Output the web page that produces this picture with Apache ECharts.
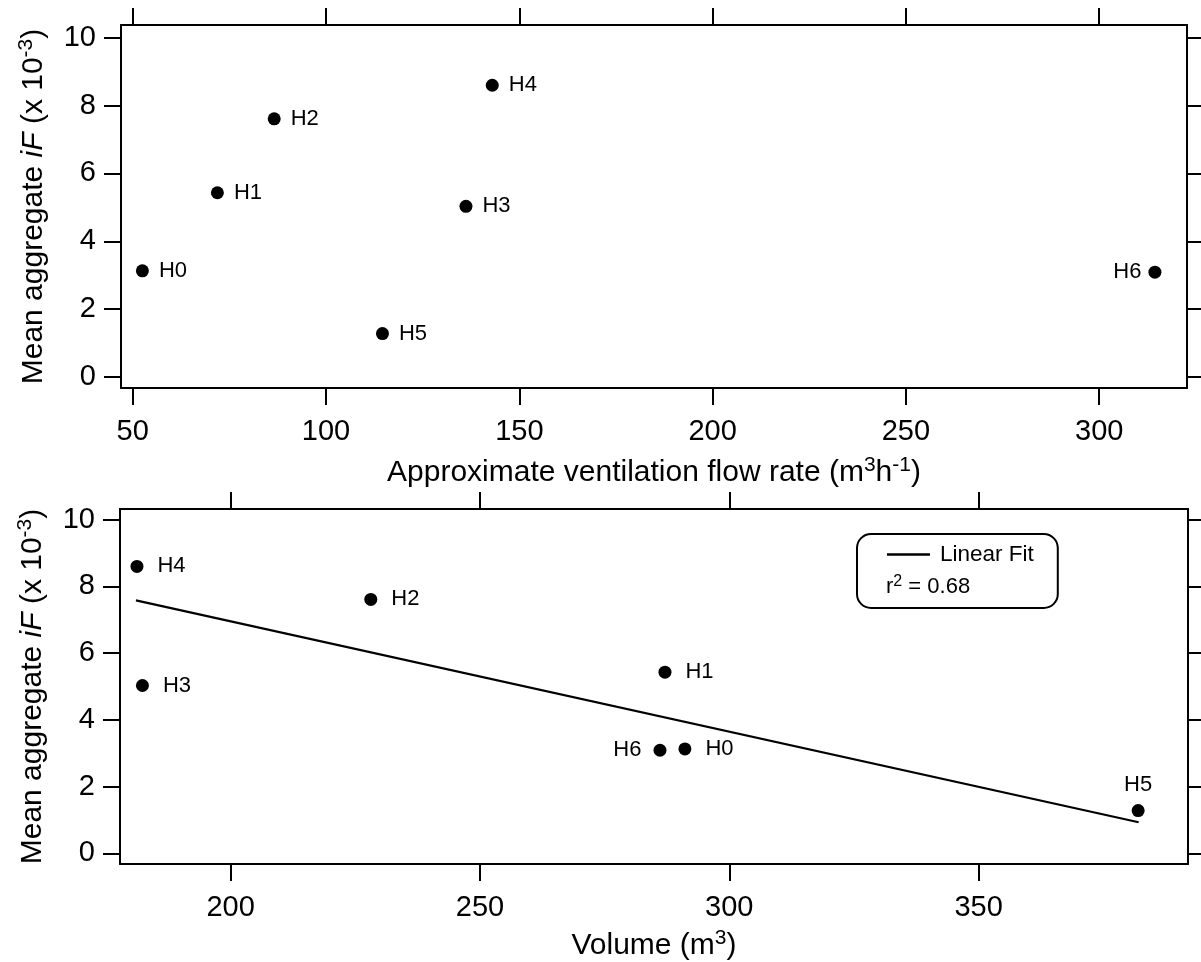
<!DOCTYPE html>
<html>
<head>
<meta charset="utf-8">
<script src="https://cdn.jsdelivr.net/npm/echarts@6/dist/echarts.min.js"></script>
<style>
html,body{margin:0;padding:0;background:#fff;}
#chart{width:1201px;height:962px;}
</style>
</head>
<body>
<div id="chart"></div>
<script>
// ---- data ----
const houses     = ['H0', 'H1', 'H2', 'H3', 'H4', 'H5', 'H6'];
const meanIF     = [3.13, 5.43, 7.61, 5.03, 8.60, 1.28, 3.09];      // x 10^-3
const flowRate   = [52.5, 71.9, 86.6, 136.2, 143.0, 114.6, 314.4]; // m3 h-1
const volume     = [291.1, 287.1, 228.1, 182.3, 181.2, 382.0, 286.1]; // m3
const fitVolume  = [181.0, 382.1];
const fitIF      = [7.58, 0.93];
const rSquared   = '0.68';
const flowTicks   = [50, 100, 150, 200, 250, 300];
const volumeTicks = [200, 250, 300, 350];
const iFTicks     = [0, 2, 4, 6, 8, 10];

// ---- style / layout ----
const FONT = "'Liberation Sans', Arial, Helvetica, sans-serif";
const BLACK = '#000';
const topRange = {xmin: 46.97, xmax: 322.7, ymin: -0.324, ymax: 10.375};
const botRange = {xmin: 177.8, xmax: 392.0, ymin: -0.32, ymax: 10.32};

const richName = {
  t: {fontFamily: FONT, fontSize: 30, lineHeight: 36, color: BLACK},
  i: {fontFamily: FONT, fontSize: 30, lineHeight: 36, color: BLACK, fontStyle: 'italic'},
  s: {fontFamily: FONT, fontSize: 21, lineHeight: 21, color: BLACK, verticalAlign: 'top'}
};

function xAx(gridIndex, range, ticks, isTop, name, nameGap) {
  return {
    type: 'value', gridIndex: gridIndex, position: isTop ? 'top' : 'bottom',
    min: range.xmin, max: range.xmax,
    name: isTop ? '' : name, nameLocation: 'middle', nameGap: nameGap || 0,
    nameTextStyle: {fontFamily: FONT, fontSize: 30, color: BLACK, rich: richName},
    axisLine: {show: true, onZero: false, lineStyle: {color: BLACK, width: 2}},
    axisTick: {show: true, inside: false, length: 17, customValues: ticks, lineStyle: {color: BLACK, width: 2}},
    axisLabel: {show: !isTop, customValues: ticks, margin: 29, fontFamily: FONT, fontSize: 29, color: BLACK},
    splitLine: {show: false}
  };
}
function yAx(gridIndex, range, isRight, name) {
  return {
    type: 'value', gridIndex: gridIndex, position: isRight ? 'right' : 'left',
    min: range.ymin, max: range.ymax,
    name: isRight ? '' : name, nameLocation: 'middle', nameGap: 69,
    nameTextStyle: {fontFamily: FONT, fontSize: 30, color: BLACK, rich: richName},
    axisLine: {show: true, onZero: false, lineStyle: {color: BLACK, width: 2}},
    axisTick: {show: true, inside: false, length: isRight ? 15 : 17, customValues: iFTicks, lineStyle: {color: BLACK, width: 2}},
    axisLabel: {show: !isRight, customValues: iFTicks, margin: 25, fontFamily: FONT, fontSize: 29, color: BLACK},
    splitLine: {show: false}
  };
}

const yName = '{t|Mean aggregate }{i|iF}{t| (x 10}{s|-3}{t|)}';

function points(xs, sides, dist) {
  return houses.map(function (h, k) {
    const side = sides[h] || 'right';
    return {
      name: h,
      value: [xs[k], meanIF[k]],
      label: {position: side, distance: dist[h] !== undefined ? dist[h] : dist._}
    };
  });
}

const labelStyle = {show: true, formatter: '{b}', fontFamily: FONT, fontSize: 22, color: BLACK, opacity: 1};

const option = {
  backgroundColor: '#fff',
  animation: false,
  grid: [
    {left: 121, top: 25, right: 14, height: 363, containLabel: false},
    {left: 120, top: 509, right: 13, height: 355, containLabel: false}
  ],
  xAxis: [
    xAx(0, topRange, flowTicks, false, '{t|Approximate ventilation flow rate (m}{s|3}{t|h}{s|-1}{t|)}', 67),
    xAx(0, topRange, flowTicks, true),
    xAx(1, botRange, volumeTicks, false, '{t|Volume (m}{s|3}{t|)}', 64),
    xAx(1, botRange, volumeTicks, true)
  ],
  yAxis: [
    yAx(0, topRange, false, yName),
    yAx(0, topRange, true),
    yAx(1, botRange, false, yName),
    yAx(1, botRange, true)
  ],
  legend: {
    show: true,
    data: [{name: 'Linear Fit', icon: 'rect'}],
    left: 857, top: 534,
    orient: 'vertical',
    padding: [9, 24, 42, 30],
    itemWidth: 43, itemHeight: 2.5,
    itemStyle: {color: BLACK, borderWidth: 0},
    borderColor: BLACK, borderWidth: 2, borderRadius: 14,
    backgroundColor: '#fff',
    textStyle: {fontFamily: FONT, fontSize: 22.5, color: BLACK, padding: [0, 0, 0, 5]},
    selectedMode: false
  },
  graphic: [
    {
      type: 'text', x: 886, y: 587, z: 100,
      style: {
        text: '{r|r}{s|2}{r| = ' + rSquared + '}',
        verticalAlign: 'middle', textVerticalAlign: 'middle',
        rich: {
          r: {fontFamily: FONT, fontSize: 22, lineHeight: 27, fill: BLACK, color: BLACK},
          s: {fontFamily: FONT, fontSize: 16, lineHeight: 16, fill: BLACK, color: BLACK, verticalAlign: 'top'}
        }
      }
    }
  ],
  series: [
    {
      type: 'scatter', xAxisIndex: 0, yAxisIndex: 0,
      symbol: 'circle', symbolSize: 13,
      itemStyle: {color: BLACK, opacity: 1},
      label: labelStyle,
      data: points(flowRate, {H6: 'left'}, {_: 10, H6: 7})
    },
    {
      type: 'scatter', xAxisIndex: 2, yAxisIndex: 2,
      symbol: 'circle', symbolSize: 13,
      itemStyle: {color: BLACK, opacity: 1},
      label: labelStyle,
      data: points(volume, {H6: 'left', H5: 'top'}, {_: 14, H6: 12, H5: 8})
    },
    {
      name: 'Linear Fit',
      type: 'line', xAxisIndex: 2, yAxisIndex: 2,
      symbol: 'none', showSymbol: false,
      lineStyle: {color: BLACK, width: 2.2},
      itemStyle: {color: BLACK},
      data: fitVolume.map(function (v, k) { return [v, fitIF[k]]; })
    }
  ]
};

const chart = echarts.init(document.getElementById('chart'), null, {renderer: 'canvas'});
chart.setOption(option);
</script>
</body>
</html>
